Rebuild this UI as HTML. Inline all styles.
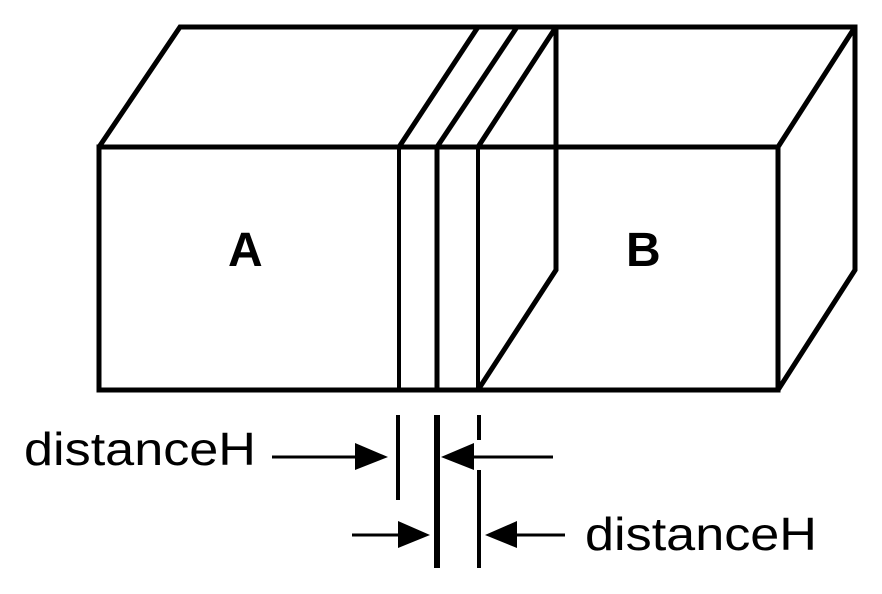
<!DOCTYPE html>
<html><head><style>body{margin:0;background:#fff}svg{display:block}</style></head><body>
<svg width="882" height="594" viewBox="0 0 882 594" xmlns="http://www.w3.org/2000/svg">
<g stroke="#000" stroke-width="5" fill="none" stroke-linejoin="miter">
<rect x="99" y="147" width="679" height="243"/>
<polyline points="99,147 180,27 855,27 855,270 778,390"/>
<line x1="855" y1="27" x2="778" y2="147"/>
<line x1="399" y1="147" x2="399" y2="390" stroke-width="4"/>
<line x1="437" y1="147" x2="437" y2="390" stroke-width="5"/>
<line x1="478" y1="147" x2="478" y2="390" stroke-width="4"/>
<line x1="399" y1="147" x2="478" y2="27"/>
<line x1="437" y1="147" x2="517" y2="27"/>
<line x1="478" y1="147" x2="556" y2="27"/>
<polyline points="556,27 556,270 478,390"/>
<line x1="398" y1="415" x2="398" y2="500" stroke-width="4"/>
<line x1="437" y1="415" x2="437" y2="568" stroke-width="6"/>
<line x1="479" y1="415" x2="479" y2="440" stroke-width="4"/>
<line x1="479" y1="470" x2="479" y2="568" stroke-width="4"/>
<line x1="272" y1="457" x2="360" y2="457" stroke-width="3"/>
<line x1="470" y1="457" x2="553" y2="457" stroke-width="3"/>
<line x1="352" y1="535" x2="405" y2="535" stroke-width="3"/>
<line x1="510" y1="535" x2="565" y2="535" stroke-width="3"/>
</g>
<g fill="#000">
<polygon points="388,457 355,443 355,470"/>
<polygon points="441,457 474,443 474,470"/>
<polygon points="430,535 398,521 398,548"/>
<polygon points="485,535 517,521 517,548"/>
</g>
<g font-family="Liberation Sans, Arial, sans-serif" fill="#000">
<text x="228" y="266" font-size="48" font-weight="bold">A</text>
<text x="626" y="266" font-size="48" font-weight="bold">B</text>
<text x="24" y="465" font-size="46" textLength="232" lengthAdjust="spacingAndGlyphs">distanceH</text>
<text x="585" y="550" font-size="46" textLength="232" lengthAdjust="spacingAndGlyphs">distanceH</text>
</g>
</svg>
</body></html>
